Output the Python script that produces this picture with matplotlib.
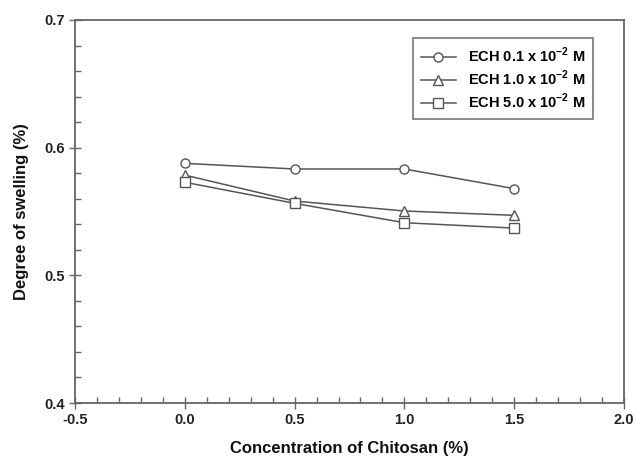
import numpy as np
import matplotlib.pyplot as plt
from matplotlib.ticker import MultipleLocator

plt.rcParams['font.family'] = ['Liberation Sans', 'DejaVu Sans']
plt.rcParams['mathtext.fontset'] = 'custom'
plt.rcParams['mathtext.rm'] = 'Liberation Sans:bold'
plt.rcParams['mathtext.bf'] = 'Liberation Sans:bold'

# data
chitosan = [0.0, 0.5, 1.0, 1.5]
ech_01 = [0.5877, 0.5833, 0.5833, 0.5679]
ech_10 = [0.5785, 0.5582, 0.5504, 0.5470]
ech_50 = [0.5729, 0.5564, 0.5412, 0.5370]
labels = [r'ECH 0.1 x 10$^{\mathbf{-2}}$ M',
          r'ECH 1.0 x 10$^{\mathbf{-2}}$ M',
          r'ECH 5.0 x 10$^{\mathbf{-2}}$ M']
markers = ['o', '^', 's']

fig = plt.figure(figsize=(6.36, 4.65), dpi=100)
ax = fig.add_axes([75/636, 1-403/465, 549/636, 383/465])

lc = '#555555'
for ys, m, lab in zip([ech_01, ech_10, ech_50], markers, labels):
    ax.plot(chitosan, ys, color=lc, lw=1.1, marker=m, markersize=6.5,
            markerfacecolor='white', markeredgecolor=lc, markeredgewidth=1.0,
            label=lab)

ax.set_xlim(-0.5, 2.0)
ax.set_ylim(0.4, 0.7)
ax.xaxis.set_major_locator(MultipleLocator(0.5))
ax.xaxis.set_minor_locator(MultipleLocator(0.1))
ax.yaxis.set_major_locator(MultipleLocator(0.1))
ax.yaxis.set_minor_locator(MultipleLocator(0.02))
ax.xaxis.set_major_formatter(plt.FormatStrFormatter('%.1f'))
ax.yaxis.set_major_formatter(plt.FormatStrFormatter('%.1f'))

ax.tick_params(which='major', direction='inout', length=8, width=1, color='#666666',
               labelsize=10.5, labelcolor='#222222', pad=3)
ax.tick_params(which='minor', direction='in', length=4, width=1, color='#666666')
for lab in ax.get_xticklabels() + ax.get_yticklabels():
    lab.set_fontweight('bold')
for s in ax.spines.values():
    s.set_color('#666666')
    s.set_linewidth(1.3)

ax.set_xlabel('Concentration of Chitosan (%)', fontsize=12, fontweight='bold',
              color='#111111', labelpad=10)
ax.set_ylabel('Degree of swelling (%)', fontsize=12, fontweight='bold',
              color='#111111', labelpad=11)

leg = ax.legend(loc='upper right', bbox_to_anchor=((593-75)/549, (403-38)/383),
                fancybox=False, frameon=True, prop={'weight': 'bold', 'size': 10.5},
                handlelength=2.4, borderpad=0.55, labelspacing=0.25,
                handletextpad=0.8, borderaxespad=0)
leg.get_frame().set_edgecolor('#555555')
leg.get_frame().set_linewidth(1.2)

fig.savefig('out.png', dpi=100)
